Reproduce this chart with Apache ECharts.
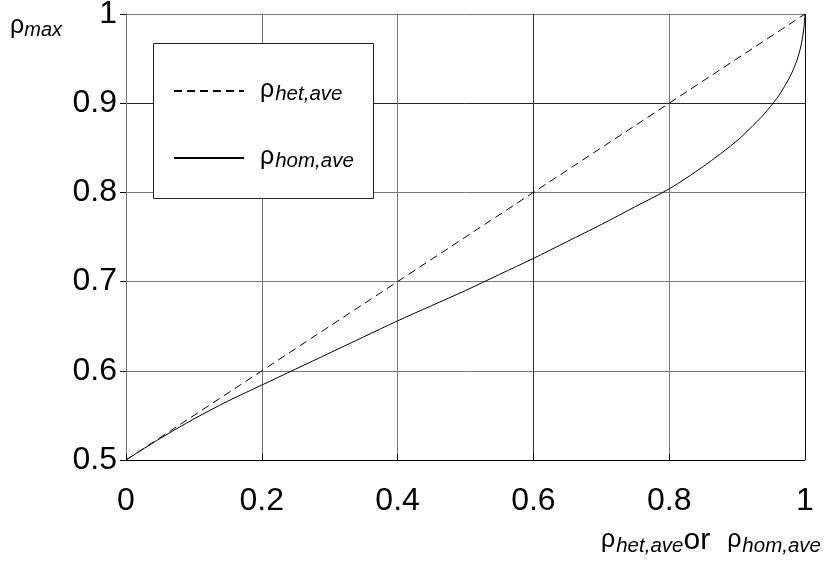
<!DOCTYPE html>
<html>
<head>
<meta charset="utf-8">
<script src="https://cdn.jsdelivr.net/npm/echarts@6/dist/echarts.min.js"></script>
<style>
html,body{margin:0;padding:0;background:#fff;}
#c{width:828px;height:566px;}
</style>
</head>
<body>
<div id="c"></div>
<script>
// ---- data ----
var xTicks = [0, 0.2, 0.4, 0.6, 0.8, 1];
var yTicks = [0.5, 0.6, 0.7, 0.8, 0.9, 1];
var hetX = [0, 1];
var hetY = [0.5, 1];
var homX = [0, 0.05, 0.1, 0.15, 0.2, 0.25, 0.3, 0.35, 0.4, 0.45, 0.5, 0.55, 0.6, 0.65, 0.7, 0.75, 0.8, 0.85, 0.9, 0.93, 0.94, 0.958, 0.97, 0.98, 0.988, 0.994, 0.998, 1.0];
var homY = [0.5, 0.524, 0.546, 0.566, 0.584, 0.602, 0.620, 0.638, 0.656, 0.673, 0.690, 0.708, 0.726, 0.745, 0.764, 0.784, 0.804, 0.829, 0.858, 0.880, 0.888, 0.905, 0.919, 0.933, 0.948, 0.964, 0.982, 1.0];
var seriesNames = ['het', 'hom'];
var legendLabels = {het: '{r|ρ}{s|het,ave}', hom: '{r|ρ}{s|hom,ave}'};
var xName = '{r|ρ}{s|het,ave}{o|or}{g| }{r|ρ}{s|hom,ave}';
var yName = '{r|ρ}{d|max}';

function zip(a, b) { return a.map(function (v, i) { return [v, b[i]]; }); }

var FONT = 'Liberation Sans';
var rich = {
  r: {fontFamily: FONT, fontSize: 25, lineHeight: 26, verticalAlign: 'top', color: '#000'},
  s: {fontFamily: FONT, fontSize: 20.5, fontStyle: 'italic', lineHeight: 20, padding: [19, 0, 0, 1], verticalAlign: 'bottom', color: '#000'},
  d: {fontFamily: FONT, fontSize: 20, fontStyle: 'italic', lineHeight: 20, padding: [24, 0, 0, 0], verticalAlign: 'bottom', color: '#000'},
  o: {fontFamily: FONT, fontSize: 30, lineHeight: 28, padding: [11, 0, 0, 0], verticalAlign: 'bottom', color: '#000'},
  g: {fontFamily: FONT, fontSize: 18, lineHeight: 20, verticalAlign: 'bottom', padding: [19, 0, 0, 12]}
};
var legendRich = JSON.parse(JSON.stringify(rich));
legendRich.r.padding = [0, 0, 0, 11];

var chart = echarts.init(document.getElementById('c'), null, {renderer: 'canvas'});
chart.setOption({
  backgroundColor: '#fff',
  animation: false,
  grid: {left: 126, right: 23, top: 14, bottom: 106, containLabel: false, outerBoundsMode: 'none'},
  xAxis: {
    type: 'value', min: 0, max: 1, interval: 0.2,
    name: xName, nameLocation: 'end', nameGap: -204, nameMoveOverlap: false,
    nameTextStyle: {align: 'left', verticalAlign: 'top', padding: [68, 0, 0, 0], rich: rich},
    axisLine: {show: true, onZero: false, lineStyle: {color: '#000', width: 1}},
    axisTick: {show: true, inside: true, length: 6, lineStyle: {color: '#000'}},
    axisLabel: {fontFamily: FONT, fontSize: 32, color: '#000', margin: 25},
    splitLine: {show: true, lineStyle: {color: ['#777', '#777', '#777', '#333', '#777', '#111'], width: 1}}
  },
  yAxis: {
    type: 'value', min: 0.5, max: 1, interval: 0.1,
    name: yName, nameLocation: 'end', nameGap: -13, nameMoveOverlap: false,
    nameTextStyle: {align: 'right', verticalAlign: 'middle', padding: [0, 64, 0, 0], rich: rich},
    axisLine: {show: true, onZero: false, lineStyle: {color: '#777', width: 1}},
    axisTick: {show: true, inside: false, length: 6, lineStyle: {color: '#000'}},
    axisLabel: {fontFamily: FONT, fontSize: 32, color: '#000', margin: 9},
    splitLine: {show: true, lineStyle: {color: ['#000', '#777', '#777', '#777', '#222', '#777'], width: 1}}
  },
  graphic: [{
    type: 'rect', left: 153, top: 43, z: 10,
    shape: {width: 220, height: 155},
    style: {fill: '#fff', stroke: '#222', lineWidth: 1}
  }],
  legend: {
    z: 20, orient: 'vertical', left: 173, top: 65, itemGap: 28,
    itemWidth: 70, itemHeight: 14, padding: 0,
    data: seriesNames,
    itemStyle: {opacity: 0},
    formatter: function (n) { return legendLabels[n]; },
    textStyle: {rich: legendRich}
  },
  series: [
    {
      name: 'het', type: 'line', data: zip(hetX, hetY), showSymbol: false, symbol: 'none', symbolSize: 0,
      lineStyle: {color: '#000', width: 1, type: [8, 5]}, itemStyle: {color: '#000'}, z: 3
    },
    {
      name: 'hom', type: 'line', data: zip(homX, homY), showSymbol: false, symbol: 'none', symbolSize: 0,
      smooth: 0.3,
      lineStyle: {color: '#000', width: 1, type: 'solid'}, itemStyle: {color: '#000'}, z: 3
    }
  ]
});
</script>
</body>
</html>
